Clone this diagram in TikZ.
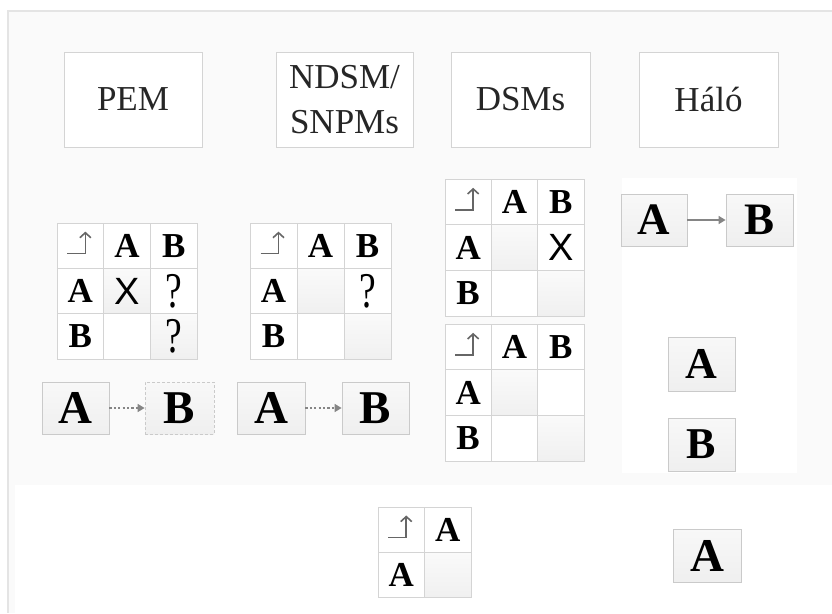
\documentclass[tikz,border=0pt]{standalone}
\usepackage{fontspec}
\usepackage{graphicx}
\setmainfont{Liberation Serif}
\newfontfamily\sansX{Liberation Sans}
\usetikzlibrary{arrows.meta}
\definecolor{frameline}{HTML}{E4E4E4}
\definecolor{framefill}{HTML}{FAFAFA}
\definecolor{cellline}{HTML}{D4D4D4}
\definecolor{boxline}{HTML}{CACACA}
\definecolor{boxtop}{HTML}{F8F8F8}
\definecolor{boxbot}{HTML}{EFEFEF}
\definecolor{celltop}{HTML}{FAFAFA}
\definecolor{cellbot}{HTML}{F0F0F0}
\definecolor{arrowgray}{HTML}{858585}
\definecolor{symgray}{HTML}{666666}
\tikzset{
  hdr/.style={draw=cellline, fill=white, line width=0.8pt, inner sep=0pt,
    minimum width=138pt, minimum height=95pt,
    font=\fontsize{35}{45}\selectfont, align=center, text=black!85},
  cellbox/.style={draw=cellline, line width=0.8pt, fill=white, inner sep=0pt,
    outer sep=0pt, font=\bfseries\fontsize{35}{35}\selectfont},
  shadecell/.style={top color=celltop, bottom color=cellbot},
  lbox/.style={draw=boxline, line width=0.8pt, top color=boxtop, bottom color=boxbot,
    inner sep=0pt, minimum height=52pt, minimum width=67pt,
    font=\bfseries\fontsize{47}{47}\selectfont},
  dotarrow/.style={draw=arrowgray, line width=1.5pt, dash pattern=on 2.2pt off 2.2pt,
    -{Triangle[length=7pt,width=8pt]}},
  solidarrow/.style={draw=arrowgray, line width=1.4pt,
    -{Triangle[length=7pt,width=8pt]}},
  cornersym/.style={draw=symgray, line width=1.6pt, line join=miter,
    -{Straight Barb[length=5pt,width=11pt]}},
}
\newcommand\xmark{{\sansX\mdseries\fontsize{38}{38}\selectfont X}}
\newcommand\qmark{{\mdseries\fontsize{50}{50}\selectfont\scalebox{0.75}[1]{?}}}
\newcommand\gc[5]{\node[cellbox,minimum width=\cw pt,minimum height=\ch pt,#4] (#1) at ({(#2+0.5)*\cw},{(#3+0.5)*\ch}) {#5};}
\newcommand\corner[1]{\draw[cornersym] ([xshift=-13pt,yshift=-8pt]#1.center) -| ([xshift=5pt,yshift=14pt]#1.center);}
\begin{document}
\begin{tikzpicture}[x=1pt,y=-1pt]
\useasboundingbox (0,0) rectangle (832,613);
% frame and faint panels
\fill[white] (0,0) rectangle (832,613);
\fill[framefill] (8,11) rectangle (832,613);
\draw[frameline, line width=2pt] (8,613) -- (8,11) -- (832,11);
\fill[white] (15,485) rectangle (832,613);
\fill[white] (622,178) rectangle (797,473);

% headers
\node[hdr] (hpem) at (133,99.5) {PEM};
\node[hdr, minimum width=137pt] (hndsm) at (344.5,99.5) {NDSM/\\SNPMs};
\node[hdr, minimum width=139pt] (hdsm) at (520.5,99.5) {DSMs};
\node[hdr, minimum width=139pt] (hhalo) at (708.5,99.5) {Háló};

% PEM grid
\begin{scope}[shift={(57,223)}]
\def\cw{46.7}\def\ch{45.3}
\gc{p00}{0}{0}{}{}
\gc{p10}{1}{0}{}{A}
\gc{p20}{2}{0}{}{B}
\gc{p01}{0}{1}{}{A}
\gc{p11}{1}{1}{shadecell}{\xmark}
\gc{p21}{2}{1}{}{\qmark}
\gc{p02}{0}{2}{}{B}
\gc{p12}{1}{2}{}{}
\gc{p22}{2}{2}{shadecell}{\qmark}
\corner{p00}
\end{scope}

% NDSM grid
\begin{scope}[shift={(250,223)}]
\def\cw{47}\def\ch{45.3}
\gc{n00}{0}{0}{}{}
\gc{n10}{1}{0}{}{A}
\gc{n20}{2}{0}{}{B}
\gc{n01}{0}{1}{}{A}
\gc{n11}{1}{1}{shadecell}{}
\gc{n21}{2}{1}{}{\qmark}
\gc{n02}{0}{2}{}{B}
\gc{n12}{1}{2}{}{}
\gc{n22}{2}{2}{shadecell}{}
\corner{n00}
\end{scope}

% DSM grid 1
\begin{scope}[shift={(445,179)}]
\def\cw{46.3}\def\ch{45.7}
\gc{d00}{0}{0}{}{}
\gc{d10}{1}{0}{}{A}
\gc{d20}{2}{0}{}{B}
\gc{d01}{0}{1}{}{A}
\gc{d11}{1}{1}{shadecell}{}
\gc{d21}{2}{1}{}{\xmark}
\gc{d02}{0}{2}{}{B}
\gc{d12}{1}{2}{}{}
\gc{d22}{2}{2}{shadecell}{}
\corner{d00}
\end{scope}

% DSM grid 2
\begin{scope}[shift={(445,324)}]
\def\cw{46.3}\def\ch{45.7}
\gc{e00}{0}{0}{}{}
\gc{e10}{1}{0}{}{A}
\gc{e20}{2}{0}{}{B}
\gc{e01}{0}{1}{}{A}
\gc{e11}{1}{1}{shadecell}{}
\gc{e21}{2}{1}{}{}
\gc{e02}{0}{2}{}{B}
\gc{e12}{1}{2}{}{}
\gc{e22}{2}{2}{shadecell}{}
\corner{e00}
\end{scope}

% small grid
\begin{scope}[shift={(378,507)}]
\def\cw{46.5}\def\ch{45}
\gc{s00}{0}{0}{}{}
\gc{s10}{1}{0}{}{A}
\gc{s01}{0}{1}{}{A}
\gc{s11}{1}{1}{shadecell}{}
\corner{s00}
\end{scope}

% PEM boxes
\node[lbox] (pa) at (75.5,408) {A};
\node[lbox, minimum width=69pt, dash pattern=on 3pt off 2pt] (pb) at (179.5,408) {B};
\draw[dotarrow] (pa) -- (pb);

% NDSM boxes
\node[lbox, minimum width=68pt] (na) at (271,408) {A};
\node[lbox] (nb) at (375.5,408) {B};
\draw[dotarrow] (na) -- (nb);

% Halo boxes
\node[lbox, minimum width=66pt, font=\bfseries\fontsize{45}{45}\selectfont] (ha) at (654,220) {A};
\node[lbox, font=\bfseries\fontsize{45}{45}\selectfont] (hb) at (759.5,220) {B};
\draw[solidarrow] (ha) -- (hb);

\node[lbox, minimum height=54pt, font=\bfseries\fontsize{44}{44}\selectfont] (ga) at (701.5,364) {A};
\node[lbox, minimum height=53pt, font=\bfseries\fontsize{44}{44}\selectfont] (gb) at (701.5,444.5) {B};
\node[lbox, minimum width=68pt, minimum height=53pt] (ba) at (707,555.5) {A};
\end{tikzpicture}
\end{document}
